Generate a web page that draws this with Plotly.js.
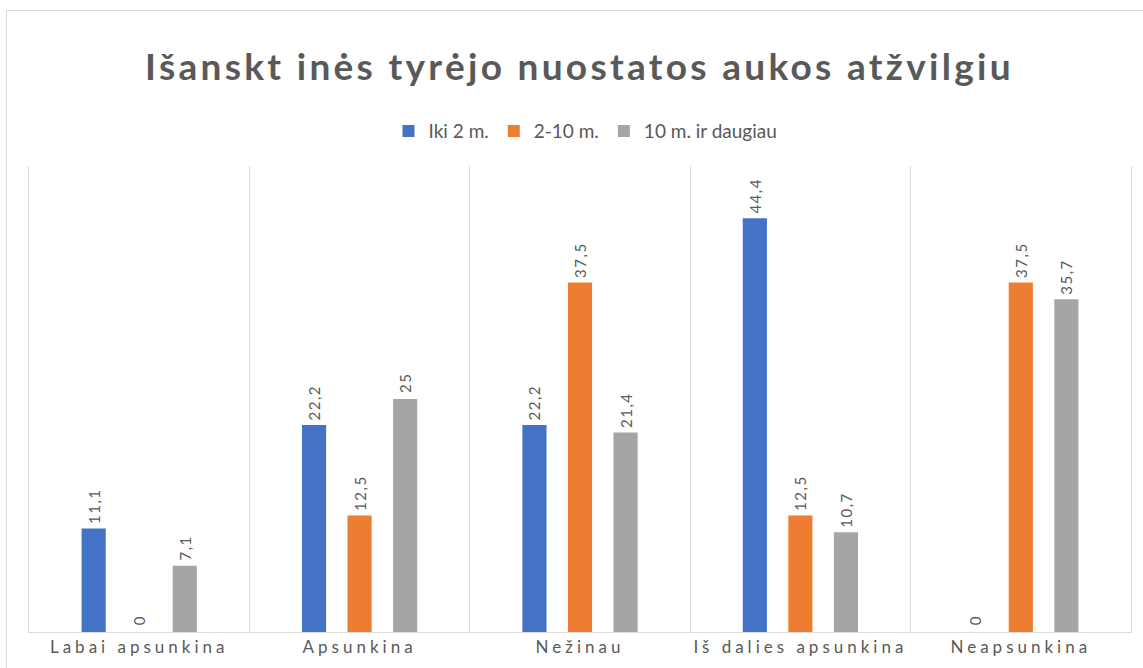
<!DOCTYPE html>
<html>
<head>
<meta charset="utf-8">
<script src="https://cdn.plot.ly/plotly-3.0.1.min.js"></script>
<style>
  html, body { margin: 0; padding: 0; background: #fff; overflow: hidden; }
  #frame { position: absolute; left: 6px; top: 10px; width: 1300px; height: 800px; border: 1px solid #d9d9d9; box-sizing: border-box; }
  #chart { position: absolute; left: 0; top: 0; width: 1143px; height: 668px; }
  #chart .xtick text { letter-spacing: 4px; }
  #chart .bartext text, #chart text.bartext { letter-spacing: 1.5px; }
  #chart .gtitle { letter-spacing: 3.3px; }
</style>
</head>
<body>
<div id="frame"></div>
<div id="chart"></div>
<script>
const categories = ["Labai apsunkina", "Apsunkina", "Nežinau", "Iš dalies apsunkina", "Neapsunkina"];
const seriesNames = ["Iki 2 m.", "2-10 m.", "10 m. ir daugiau"];
const iki2 = [11.1, 22.2, 22.2, 44.4, 0];
const nuo2iki10 = [0, 12.5, 37.5, 12.5, 37.5];
const virs10 = [7.1, 25, 21.4, 10.7, 35.7];
const colors = ["#4472C4", "#ED7D31", "#A5A5A5"];

const fmt = v => '\u00A0' + String(v).replace('.', ',');
const seriesValues = [iki2, nuo2iki10, virs10];

const traces = seriesValues.map((vals, i) => ({
  type: 'bar',
  name: seriesNames[i],
  x: categories,
  y: vals,
  marker: { color: colors[i] },
  text: vals.map(fmt),
  textposition: 'outside',
  textangle: -90,
  constraintext: 'none',
  cliponaxis: false,
  textfont: { family: 'Lato, "Open Sans", sans-serif', size: 15, color: '#595959' },
  hoverinfo: 'x+y+name'
}));

const layout = {
  width: 1143,
  height: 668,
  paper_bgcolor: 'rgba(0,0,0,0)',
  plot_bgcolor: 'rgba(0,0,0,0)',
  margin: { l: 29, r: 12, t: 166, b: 36 },
  font: { family: 'Lato, "Open Sans", sans-serif', color: '#595959' },
  title: {
    text: '<b>Išanskt inės tyrėjo nuostatos aukos atžvilgiu</b>',
    font: { family: 'Lato, "Open Sans", sans-serif', size: 37, color: '#595959' },
    x: 0.507, xanchor: 'center',
    y: 1 - 67 / 668, yref: 'container', yanchor: 'middle'
  },
  barmode: 'group',
  bargap: 0.38,
  bargroupgap: 0.47,
  showlegend: true,
  legend: {
    orientation: 'h',
    x: 0.505, xanchor: 'center',
    y: 1.075, yanchor: 'middle',
    font: { size: 19, color: '#595959' },
    itemwidth: 30,
    traceorder: 'normal'
  },
  xaxis: {
    type: 'category',
    tickson: 'boundaries',
    showgrid: true,
    gridcolor: '#d9d9d9',
    gridwidth: 1,
    ticks: '',
    showline: true,
    linecolor: '#d9d9d9',
    linewidth: 1,
    tickfont: { size: 17, color: '#595959' },
    automargin: false
  },
  yaxis: {
    range: [0, 50],
    showgrid: false,
    zeroline: false,
    showticklabels: false,
    showline: true,
    mirror: true,
    linecolor: '#d9d9d9',
    linewidth: 1,
    ticks: ''
  }
};

Plotly.newPlot('chart', traces, layout, { displayModeBar: false });
</script>
</body>
</html>
